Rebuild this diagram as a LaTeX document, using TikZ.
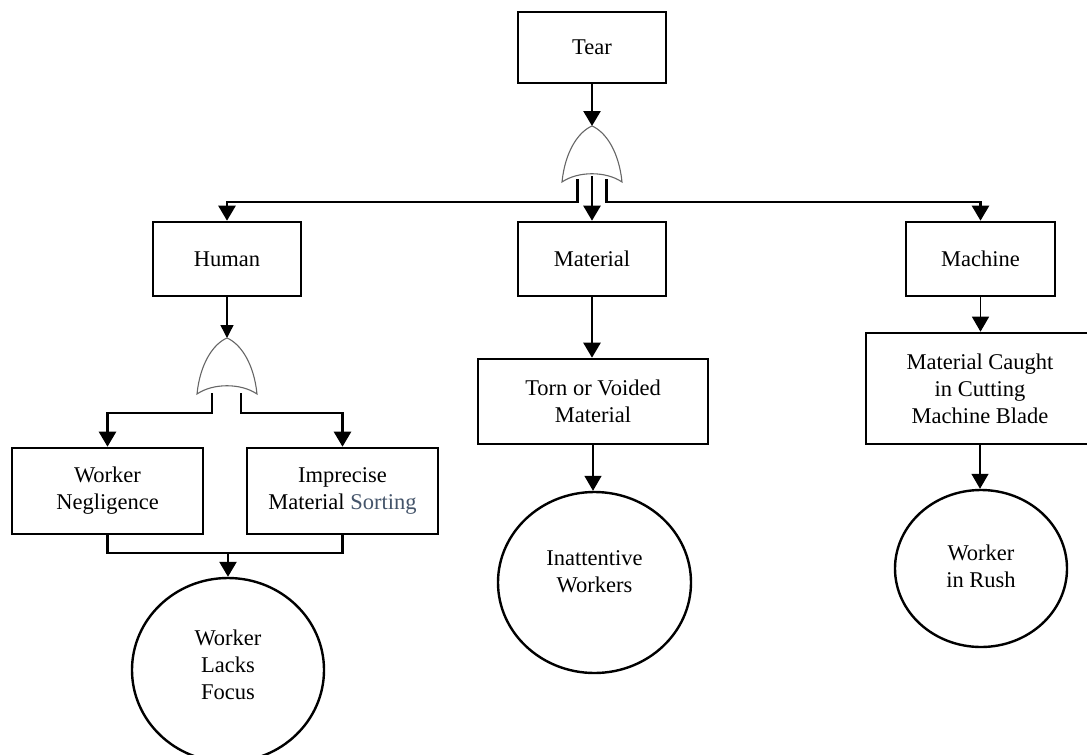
\documentclass[tikz,border=0pt]{standalone}
\usepackage{fontspec}
\setmainfont{Liberation Serif}
\usetikzlibrary{arrows.meta,calc,shapes.geometric}

\newcommand\evfont{\fontsize{22.5}{27}\selectfont}
\definecolor{slateText}{HTML}{44546A}

\begin{document}
\begin{tikzpicture}[x=1pt,y=-1pt,
  thick line/.style={line width=2.5pt, draw=black},
  thin line/.style={line width=1.4pt, draw=black},
  tip/.style={-{Triangle[length=15pt,width=17pt]}},
  small tip/.style={-{Triangle[length=13pt,width=13pt]}},
  eventbox/.style={draw, line width=2.6pt, fill=white, align=center,
    font=\evfont, inner sep=0pt},
  basic/.style={draw, ellipse, line width=2.4pt, fill=white, inner sep=0pt},
  label text/.style={align=center, font=\evfont, inner sep=0pt},
  orgate/.pic={
    \draw[draw=black!60, line width=1.1pt, fill=white]
      (-30,56) .. controls (-27,26) and (-14,6) .. (0,0)
      .. controls (14,6) and (27,26) .. (30,56)
      .. controls (14,45) and (-14,45) .. cycle;
  }]
\useasboundingbox (0,0) rectangle (1087,755);

% top event and first-level categories
\node[eventbox, minimum width=148pt, minimum height=71pt] (tear) at (592,47.5) {Tear};
\node[eventbox, minimum width=148pt, minimum height=74pt] (human) at (227,259) {Human};
\node[eventbox, minimum width=148pt, minimum height=74pt] (material) at (592,259) {Material};
\node[eventbox, minimum width=149pt, minimum height=74pt] (machine) at (980.5,259) {Machine};

% intermediate events
\node[eventbox, minimum width=230pt, minimum height=85pt] (torn) at (593,401.5) {Torn or Voided\\Material};
\node[eventbox, minimum width=228pt, minimum height=111pt] (caught) at (980,388.5) {Material Caught\\in Cutting\\Machine Blade};
\node[eventbox, minimum width=191pt, minimum height=86pt] (neglig) at (107.5,491) {Worker\\Negligence};
\node[eventbox, minimum width=191pt, minimum height=86pt] (sorting) at (342.5,491) {Imprecise\\Material \textcolor{slateText}{Sorting}};

% basic events
\node[basic, minimum width=192pt, minimum height=184pt] (focus) at (228,670) {};
\node[label text] (focusText) at (228,665) {Worker\\Lacks\\Focus};
\node[basic, minimum width=193pt, minimum height=181pt] (inatt) at (594.5,582.5) {};
\node[label text] (inattText) at ($(inatt)+(0,-11)$) {Inattentive\\Workers};
\node[basic, minimum width=172pt, minimum height=157pt] (rush) at (981,568.5) {};
\node[label text] (rushText) at ($(rush)+(0,-2)$) {Worker\\in Rush};

% OR gates
\pic at (592,126) {orgate};
\coordinate (g1top) at (592,126);
\coordinate (g1L) at (577.5,179);
\coordinate (g1C) at (592,176);
\coordinate (g1R) at (606.5,179);
\coordinate (bus1) at (592,202);

\pic at (227,338) {orgate};
\coordinate (g2top) at (227,338);
\coordinate (g2L) at (212,393);
\coordinate (g2R) at (241,393);
\coordinate (bus2) at (227,413);

% connectors of the first gate
\draw[thick line, tip] (tear.south) -- (g1top);
\draw[thick line, tip] (g1L) -- (g1L |- bus1) -| (human.north);
\draw[thick line, tip] (g1R) -- (g1R |- bus1) -| (machine.north);
\draw[thick line, tip] (g1C) -- (material.north);

% material and machine branches
\draw[thick line, tip] (material.south) -- (material.south |- torn.north);
\draw[thin line, tip] (torn.south) -- (torn.south |- inatt.north);
\draw[thin line, tip] (machine.south) -- (machine.south |- caught.north);
\draw[thin line, tip] (caught.south) -- (caught.south |- rush.north);

% human branch
\draw[thin line, small tip] (human.south) -- (g2top);
\draw[thick line, tip] (g2L) -- (g2L |- bus2) -| (neglig.north);
\draw[thick line, tip] (g2R) -- (g2R |- bus2) -| (sorting.north);
\coordinate (join) at (228,553);
\draw[thick line] (neglig.south) -- (neglig.south |- join) -| (sorting.south);
\draw[thick line, tip] (join) -- (focus.north);
\end{tikzpicture}
\end{document}
